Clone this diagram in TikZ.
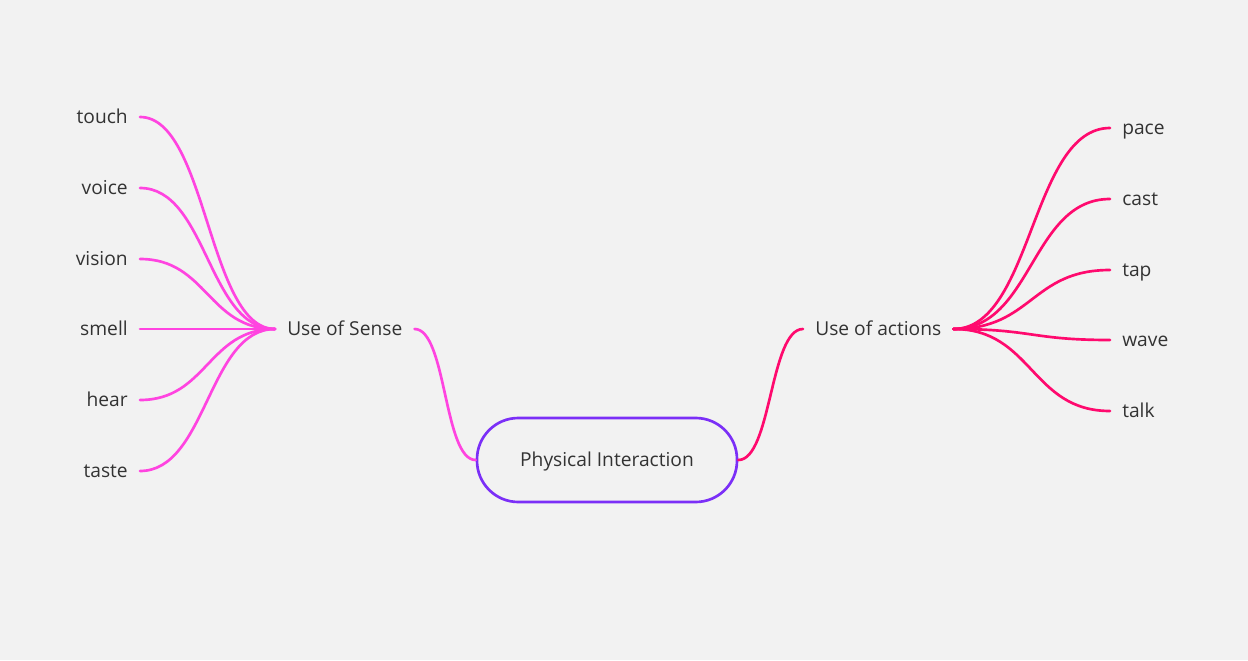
\documentclass[tikz,border=0pt]{standalone}
\usepackage{fontspec}
\setmainfont{Open Sans}
\usepackage{tikz}
\usetikzlibrary{positioning}
\definecolor{bgcol}{HTML}{F2F2F2}
\definecolor{txtcol}{HTML}{333333}
\definecolor{sensecol}{HTML}{FF44E0}
\definecolor{actioncol}{HTML}{FF0A6E}
\definecolor{rootcol}{HTML}{7B2FF7}
\tikzset{
  topic/.style={text=txtcol,font=\fontsize{14.4}{17}\selectfont,inner xsep=9pt,inner ysep=0pt,
    text height=2ex,text depth=0.2ex},
  rootbox/.style={draw=rootcol,line width=2pt,fill=bgcol,rounded corners=31pt,
    minimum width=195pt,minimum height=63pt,text=txtcol,font=\fontsize{14.4}{17}\selectfont,
    text height=2ex,text depth=0.2ex},
  senseline/.style={draw=sensecol,line width=2pt},
  actionline/.style={draw=actioncol,line width=2pt},
}
\begin{document}
\begin{tikzpicture}[x=0.75pt,y=-0.75pt,line cap=round]
%%
\fill [bgcol] (0,0) rectangle (1248,660);
\node (root) at (607,460) [rootbox] {Physical Interaction};
%
\node (sense) at (275,329) [topic,anchor=west] {Use of Sense};
  \node (sense_touch) at (140,117) [topic,anchor=east] {touch};
  \node (sense_voice) at (140,188) [topic,anchor=east] {voice};
  \node (sense_vision) at (140,259) [topic,anchor=east] {vision};
  \node (sense_smell) at (140,329) [topic,anchor=east] {smell};
  \node (sense_hear) at (140,400) [topic,anchor=east] {hear};
  \node (sense_taste) at (140,471) [topic,anchor=east] {taste};
%
\node (actions) at (803,329) [topic,anchor=west] {Use of actions};
  \node (act_pace) at (1110,128) [topic,anchor=west] {pace};
  \node (act_cast) at (1110,199) [topic,anchor=west] {cast};
  \node (act_tap) at (1110,270) [topic,anchor=west] {tap};
  \node (act_wave) at (1110,340) [topic,anchor=west] {wave};
  \node (act_talk) at (1110,411) [topic,anchor=west] {talk};
%
\draw [senseline] (root.west) ..controls +(-32,0) and +(32,0) .. (sense.east);
\draw [actionline] (root.east) ..controls +(33,0) and +(-33,0) .. (actions.west);
%
\draw [senseline] (sense_touch.east) ..controls +(67,0) and +(-67,0) .. (sense.west);
\draw [senseline] (sense_voice.east) ..controls +(67,0) and +(-67,0) .. (sense.west);
\draw [senseline] (sense_vision.east) ..controls +(67,0) and +(-67,0) .. (sense.west);
\draw [senseline] (sense_smell.east) -- (sense.west);
\draw [senseline] (sense_hear.east) ..controls +(67,0) and +(-67,0) .. (sense.west);
\draw [senseline] (sense_taste.east) ..controls +(67,0) and +(-67,0) .. (sense.west);
%
\draw [actionline] (actions.east) ..controls +(79,0) and +(-79,0) .. (act_pace.west);
\draw [actionline] (actions.east) ..controls +(79,0) and +(-79,0) .. (act_cast.west);
\draw [actionline] (actions.east) ..controls +(79,0) and +(-79,0) .. (act_tap.west);
\draw [actionline] (actions.east) ..controls +(79,0) and +(-79,0) .. (act_wave.west);
\draw [actionline] (actions.east) ..controls +(79,0) and +(-79,0) .. (act_talk.west);
%
\end{tikzpicture}
\end{document}
